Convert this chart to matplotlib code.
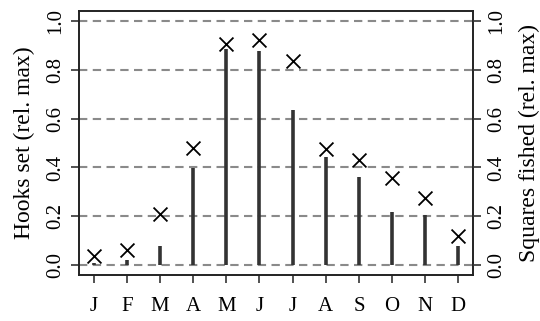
import matplotlib
matplotlib.use("Agg")
import matplotlib.pyplot as plt
import numpy as np

months = ["J", "F", "M", "A", "M", "J", "J", "A", "S", "O", "N", "D"]
hooks_set = [0.009, 0.023, 0.080, 0.397, 0.886, 0.876, 0.637, 0.443, 0.359, 0.216, 0.206, 0.080]
squares_fished = [0.036, 0.061, 0.211, 0.480, 0.906, 0.920, 0.835, 0.475, 0.430, 0.357, 0.275, 0.121]
yticks = [0.0, 0.2, 0.4, 0.6, 0.8, 1.0]

plt.rcParams['font.family'] = ['Liberation Serif', 'DejaVu Serif']

fig = plt.figure(figsize=(5.4, 3.21), dpi=100)
ax = fig.add_axes([79/540, 46/321, 394/540, 264/321])
x = np.arange(1, 13)

for yv in yticks:
    ax.axhline(yv, color="#8a8a8a", lw=1.5, dashes=(4, 2.6), zorder=1)

ax.vlines(x, 0, hooks_set, color="#333333", lw=2.6, zorder=2)
ax.scatter(x, squares_fished, marker="x", s=100, color="black", linewidths=1.3, zorder=3)

ax.set_xlim(0.56, 12.44)
ax.set_ylim(-0.04, 1.04)
ax.set_xticks(x)
ax.set_xticklabels(months, fontsize=15)
ax.set_yticks(yticks)
ax.set_yticklabels([f"{v:.1f}" for v in yticks], rotation=90, va="center", fontsize=15)
ax.tick_params(axis="x", length=6, width=1.2, pad=10, color="#333333")
ax.tick_params(axis="y", length=6, width=1.2, pad=4, color="#333333")
for s in ax.spines.values():
    s.set_linewidth(1.4)
    s.set_color("#222222")
ax.set_ylabel("Hooks set (rel. max)", fontsize=17, labelpad=8)

ax2 = ax.twinx()
ax2.set_position(ax.get_position())
ax2.set_ylim(-0.04, 1.04)
ax2.set_yticks(yticks)
ax2.set_yticklabels([f"{v:.1f}" for v in yticks], rotation=90, va="center", fontsize=15)
ax2.tick_params(axis="y", length=6, width=1.2, pad=4, color="#333333")
for s in ax2.spines.values():
    s.set_visible(False)
ax2.set_ylabel("Squares fished (rel. max)", fontsize=17, labelpad=9)

fig.savefig("out.png", dpi=100)
